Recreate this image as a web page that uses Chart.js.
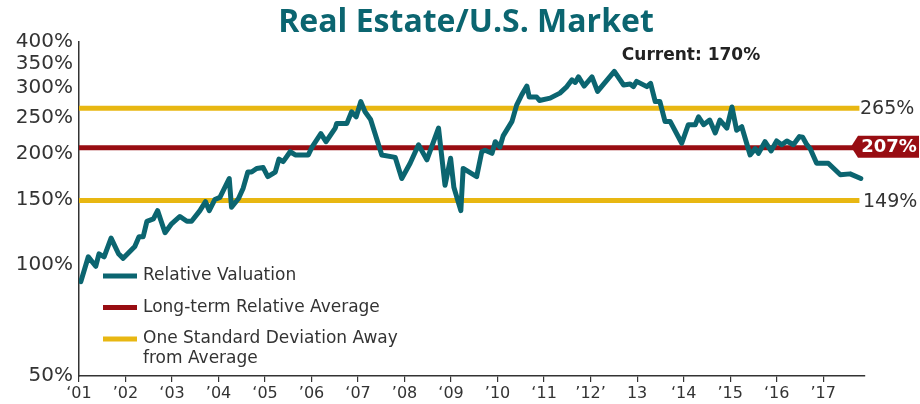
<!DOCTYPE html>
<html>
<head>
<meta charset="utf-8">
<script src="https://cdn.jsdelivr.net/npm/chart.js@4.4.0/dist/chart.umd.min.js"></script>
<style>
    html, body { margin: 0; padding: 0; background: #fff; }
    #wrap { width: 920px; height: 404px; position: relative; }
</style>
</head>
<body>
<div id="wrap"><canvas id="myChart" width="920" height="404"></canvas></div>
<script>
// relative valuation (real estate vs U.S. market)
const valYears = [
    2001.04, 2001.20, 2001.36, 2001.43, 2001.54, 2001.69, 2001.85, 2001.95,
    2002.20, 2002.29, 2002.38, 2002.46, 2002.60, 2002.69, 2002.85, 2002.99,
    2003.17, 2003.32, 2003.42, 2003.60, 2003.72, 2003.80, 2003.92,
    2004.03, 2004.23, 2004.28, 2004.43, 2004.53, 2004.63, 2004.71, 2004.82, 2004.96,
    2005.06, 2005.22, 2005.30, 2005.39, 2005.54, 2005.65, 2005.93,
    2006.02, 2006.20, 2006.31, 2006.51, 2006.54, 2006.68, 2006.76, 2006.86, 2006.96,
    2007.06, 2007.15, 2007.27, 2007.51, 2007.80, 2007.94,
    2008.12, 2008.30, 2008.48, 2008.73, 2008.87, 2008.99,
    2009.06, 2009.21, 2009.26, 2009.55, 2009.66, 2009.73, 2009.88, 2009.95,
    2010.05, 2010.12, 2010.31, 2010.41, 2010.52, 2010.63, 2010.68, 2010.84, 2010.90,
    2011.13, 2011.34, 2011.49, 2011.60, 2011.67, 2011.74, 2011.86,
    2012.03, 2012.15, 2012.51, 2012.71, 2012.85, 2012.92, 2012.99,
    2013.21, 2013.29, 2013.39, 2013.49, 2013.60, 2013.71, 2013.96,
    2014.10, 2014.25, 2014.32, 2014.43, 2014.56, 2014.68, 2014.78, 2014.93,
    2015.04, 2015.14, 2015.25, 2015.43, 2015.54, 2015.61, 2015.75, 2015.88,
    2016.00, 2016.11, 2016.22, 2016.36, 2016.49, 2016.56, 2016.65, 2016.72, 2016.86,
    2017.11, 2017.37, 2017.58, 2017.81
];
const valPct = [
    90, 105, 99, 107, 105, 118, 107, 104,
    112, 119, 119, 131, 133, 140, 122, 129,
    135, 131, 131, 140, 148, 140, 150,
    152, 171, 143, 151, 161, 178, 178, 182, 183,
    173, 178, 193, 190, 202, 198, 198,
    209, 226, 215, 234, 241, 241, 241, 259, 251,
    276, 259, 247, 198, 195, 171,
    188, 211, 192, 234, 164, 194,
    162, 140, 182, 173, 202, 204, 200, 215,
    208, 223, 244, 270, 288, 304, 284, 284, 278,
    282, 291, 303, 316, 311, 322, 304,
    322, 294, 333, 306, 308, 303, 313,
    303, 309, 276, 276, 244, 244, 213,
    239, 239, 251, 239, 246, 227, 246, 234,
    267, 231, 236, 198, 206, 200, 215, 203,
    216, 211, 216, 211, 222, 221, 211, 206, 188,
    188, 175, 176, 171
];

const longTermAvg = 207;
const upperBand = 265;
const lowerBand = 149;
const bandYears = [2001, 2017.78];

const yTicks = [50, 100, 150, 200, 250, 300, 350, 400];
const xTickYears = [2001, 2002, 2003, 2004, 2005, 2006, 2007, 2008, 2009,
    2010, 2011, 2012, 2013, 2014, 2015, 2016, 2017];
const xTickLabels = ['\u201801', '\u201902', '\u201803', '\u201904', '\u201805', '\u201906',
    '\u201807', '\u201908', '\u201809', '\u201910', '\u201811', '\u201912\u2019', '13',
    '\u201814', '\u201915', '\u201816', '\u201917'];

const legendItems = [
    { text: ['Relative Valuation'], color: '#0b6570' },
    { text: ['Long-term Relative Average'], color: '#980d12' },
    { text: ['One Standard Deviation Away', 'from Average'], color: '#e8b712' }
];

const TEAL = '#0b6570';
const RED = '#980d12';
const GOLD = '#e8b712';
const TEXT = '#333333';
const FONT = '"DejaVu Sans", sans-serif';
const TITLE_FONT = '"Open Sans", sans-serif';

function flatLine(v) {
    return bandYears.map(function (x) { return { x: x, y: v }; });
}

const valuationPoints = valYears.map(function (x, i) {
    return { x: x, y: valPct[i] };
});

// title, annotations, right hand labels and the legend
const extras = {
    id: 'extras',
    afterDraw: function (chart) {
        const ctx = chart.ctx;
        const yScale = chart.scales.y;
        const area = chart.chartArea;
        ctx.save();

        ctx.fillStyle = TEAL;
        ctx.font = 'bold 32px ' + TITLE_FONT;
        ctx.textAlign = 'center';
        ctx.textBaseline = 'middle';
        ctx.fillText('Real Estate/U.S. Market', 466, 23);

        ctx.fillStyle = '#222';
        ctx.font = 'bold 17px ' + FONT;
        ctx.fillText('Current: 170%', 691, 56);

        // right labels
        ctx.textAlign = 'left';
        ctx.fillStyle = TEXT;
        ctx.font = '19px ' + FONT;
        ctx.fillText(upperBand + '%', 860, yScale.getPixelForValue(upperBand) + 1);
        ctx.fillText(lowerBand + '%', 863, yScale.getPixelForValue(lowerBand) + 1);

        // tag for the long-term average
        const ty = yScale.getPixelForValue(longTermAvg) - 1;
        ctx.fillStyle = RED;
        ctx.beginPath();
        ctx.moveTo(851, ty);
        ctx.lineTo(858, ty - 11);
        ctx.lineTo(919, ty - 11);
        ctx.lineTo(919, ty + 11);
        ctx.lineTo(858, ty + 11);
        ctx.closePath();
        ctx.fill();
        ctx.fillStyle = '#fff';
        ctx.font = 'bold 18px ' + FONT;
        ctx.textAlign = 'center';
        ctx.fillText(longTermAvg + '%', 889, ty + 1);

        // legend
        let ly = 276;
        ctx.textAlign = 'left';
        ctx.font = '17px ' + FONT;
        legendItems.forEach(function (item) {
            ctx.strokeStyle = item.color;
            ctx.lineWidth = 5;
            ctx.beginPath();
            ctx.moveTo(area.left + 24, ly);
            ctx.lineTo(area.left + 58, ly);
            ctx.stroke();
            ctx.fillStyle = TEXT;
            item.text.forEach(function (t, k) {
                ctx.fillText(t, area.left + 64, ly + k * 20);
            });
            ly += 31.5;
        });
        ctx.restore();
    }
};

const ctx = document.getElementById('myChart').getContext('2d');
const myChart = new Chart(ctx, {
    type: 'line',
    data: {
        datasets: [
            {
                label: 'Relative Valuation',
                data: valuationPoints,
                borderColor: TEAL,
                borderWidth: 5,
                borderJoinStyle: 'round',
                borderCapStyle: 'round',
                pointRadius: 0,
                tension: 0,
                order: 0
            },
            {
                label: 'Long-term Relative Average',
                data: flatLine(longTermAvg),
                borderColor: RED,
                borderWidth: 5,
                pointRadius: 0,
                order: 1
            },
            {
                label: 'One Standard Deviation Away from Average',
                data: flatLine(upperBand),
                borderColor: GOLD,
                borderWidth: 5,
                pointRadius: 0,
                order: 2
            },
            {
                label: 'lower band',
                data: flatLine(lowerBand),
                borderColor: GOLD,
                borderWidth: 5,
                pointRadius: 0,
                order: 2
            }
        ]
    },
    options: {
        responsive: false,
        animation: false,
        events: [],
        layout: { padding: { top: 42, right: 55, left: 0, bottom: 0 } },
        plugins: {
            legend: { display: false },
            tooltip: { enabled: false },
            title: { display: false }
        },
        scales: {
            x: {
                type: 'linear',
                min: 2001,
                max: 2017.9,
                afterBuildTicks: function (axis) {
                    axis.ticks = xTickYears.map(function (v) { return { value: v }; });
                },
                afterFit: function (scale) { scale.height = 28; },
                grid: {
                    display: true,
                    drawOnChartArea: false,
                    drawTicks: true,
                    tickLength: 6,
                    color: TEXT,
                    lineWidth: 1.2
                },
                border: { display: true, color: TEXT, width: 1.5 },
                ticks: {
                    padding: 2,
                    maxRotation: 0,
                    autoSkip: false,
                    color: TEXT,
                    font: { family: FONT, size: 16 },
                    callback: function (value, index) {
                        return xTickLabels[index];
                    }
                }
            },
            y: {
                type: 'logarithmic',
                min: 50,
                max: 400,
                afterBuildTicks: function (axis) {
                    axis.ticks = yTicks.map(function (v) { return { value: v }; });
                },
                afterFit: function (scale) { scale.width = 79; },
                grid: {
                    display: true,
                    drawOnChartArea: false,
                    drawTicks: false
                },
                border: { display: true, color: TEXT, width: 1.5 },
                ticks: {
                    padding: 6,
                    autoSkip: false,
                    color: TEXT,
                    font: { family: FONT, size: 20 },
                    callback: function (value) {
                        return value + '%';
                    }
                }
            }
        }
    },
    plugins: [extras]
});
</script>
</body>
</html>
